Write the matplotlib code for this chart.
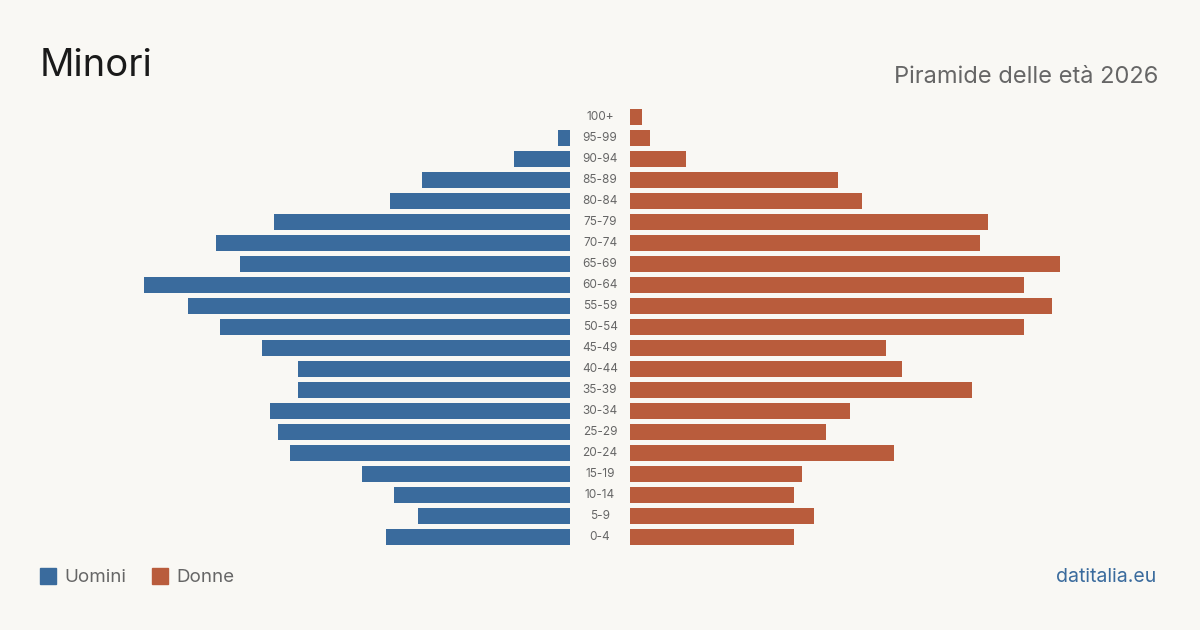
import matplotlib.pyplot as plt

plt.rcParams['font.family'] = ['Inter', 'DejaVu Sans']

# age classes, top to bottom
ages = ["100+", "95-99", "90-94", "85-89", "80-84", "75-79", "70-74", "65-69",
        "60-64", "55-59", "50-54", "45-49", "40-44", "35-39", "30-34", "25-29",
        "20-24", "15-19", "10-14", "5-9", "0-4"]
uomini = [0, 3, 14, 37, 45, 74, 88.5, 82.5, 106.5, 95.5, 87.5, 77, 68, 68, 75, 73,
          70, 52, 44, 38, 46]
donne = [3, 5, 14, 52, 58, 89.5, 87.5, 107.5, 98.5, 105.5, 98.5, 64, 68, 85.5, 55, 49,
         66, 43, 41, 46, 41]

bg = "#f9f8f4"
blue = "#3a6b9d"
orange = "#b95c3c"
grey = "#666666"

W, H = 1200, 630
fig = plt.figure(figsize=(12, 6.3), dpi=100, facecolor=bg)

xmax = 108
half = 432  # pixels for xmax
top, bottom = 106.5, 547.5
ax_b = 1 - bottom / H
ax_h = (bottom - top) / H

axl = fig.add_axes([(570 - half) / W, ax_b, half / W, ax_h])
axr = fig.add_axes([630 / W, ax_b, half / W, ax_h])

y = list(range(len(ages)))
axl.barh(y, uomini, height=0.8, color=blue)
axr.barh(y, donne, height=0.8, color=orange)

axl.set_xlim(xmax, 0)
axr.set_xlim(0, xmax)
for ax in (axl, axr):
    ax.set_ylim(len(ages) - 0.5, -0.5)
    ax.axis("off")

for i, a in enumerate(ages):
    fig.text(600 / W, 1 - (117 + 21 * i) / H, a, ha="center", va="center",
             fontsize=8.5, color=grey)

fig.text(40 / W, 1 - 66 / H, "Minori", fontsize=27.5, color="#1a1a1a",
         ha="left", va="center")
fig.text(1158 / W, 1 - 77 / H, "Piramide delle età 2026", fontsize=17,
         color=grey, ha="right", va="center")

# legend
for x0, lab, c in [(40, "Uomini", blue), (152, "Donne", orange)]:
    fig.patches.append(plt.Rectangle((x0 / W, 1 - 584 / H), 16 / W, 16 / H,
                                     transform=fig.transFigure, color=c))
    fig.text((x0 + 24) / W, 1 - 577 / H, lab, fontsize=13.5, color=grey,
             ha="left", va="center")

fig.text(1156 / W, 1 - 577 / H, "datitalia.eu", fontsize=14, color=blue,
         ha="right", va="center")

fig.savefig("out.png", dpi=100, facecolor=bg)
